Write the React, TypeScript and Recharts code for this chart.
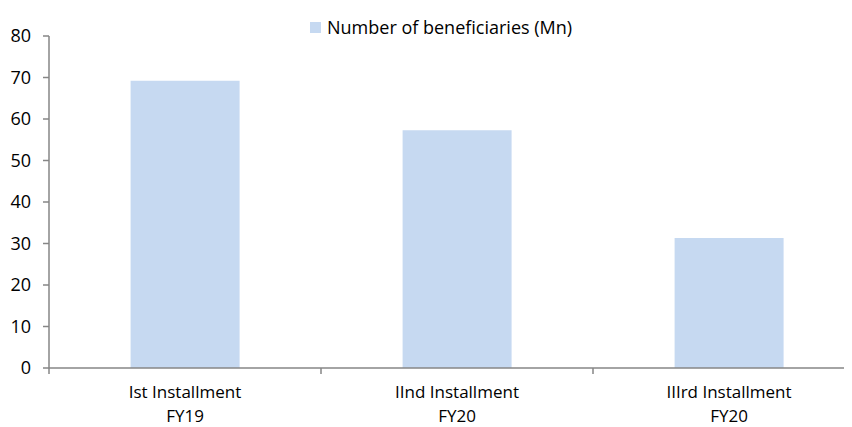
import { BarChart, Bar, XAxis, YAxis, Legend } from 'recharts'

const categories = ['Ist Installment', 'IInd Installment', 'IIIrd Installment']
const fiscalYears = ['FY19', 'FY20', 'FY20']
const beneficiaries = [69.2, 57.3, 31.3]
const yTicks = [0, 10, 20, 30, 40, 50, 60, 70, 80]
const seriesName = 'Number of beneficiaries (Mn)'

const BAR_COLOR = '#C6D9F1'
const AXIS_COLOR = '#868686'
const TEXT_COLOR = '#000'
const FONT = '"Open Sans", Lato, sans-serif'

const CHART_W = 857
const CHART_H = 419
const Y_AXIS_W = 41
const BAND_W = (CHART_W - Y_AXIS_W) / categories.length

const data = categories.map((name, i) => ({
  name,
  fy: fiscalYears[i],
  value: beneficiaries[i],
}))

// two-line category label plus a tick mark on the left edge of each band
function CategoryTick(props: any) {
  const { x, y, index } = props
  const axisY = y - 6
  const left = x - BAND_W / 2
  return (
    <g>
      <line x1={left} y1={axisY} x2={left} y2={axisY + 6} stroke={AXIS_COLOR} strokeWidth={1.5} />
      <text x={x} y={axisY + 30} textAnchor="middle" fontFamily={FONT} fontSize={17} fill={TEXT_COLOR}>
        {categories[index]}
      </text>
      <text x={x} y={axisY + 54} textAnchor="middle" fontFamily={FONT} fontSize={17} fill={TEXT_COLOR}>
        {fiscalYears[index]}
      </text>
    </g>
  )
}

function LegendContent() {
  return (
    <div style={{ display: 'flex', alignItems: 'center', fontFamily: FONT, fontSize: 18, color: TEXT_COLOR }}>
      <span style={{ display: 'inline-block', width: 11, height: 11, background: BAR_COLOR, marginRight: 6 }} />
      <span>{seriesName}</span>
    </div>
  )
}

export default function App() {
  return (
    <div style={{ width: 844, height: CHART_H, overflow: 'hidden' }}>
      <BarChart
        width={CHART_W}
        height={CHART_H}
        data={data}
        margin={{ top: 28, right: 0, bottom: 0, left: 0 }}
        barCategoryGap="30%"
      >
        <YAxis
          width={Y_AXIS_W}
          domain={[0, 80]}
          ticks={yTicks}
          interval={0}
          axisLine={{ stroke: AXIS_COLOR, strokeWidth: 1.5 }}
          tickLine={{ stroke: AXIS_COLOR, strokeWidth: 1.5 }}
          tickSize={6}
          tickMargin={12}
          tick={{ fontFamily: FONT, fontSize: 18, fill: TEXT_COLOR }}
        />
        <XAxis
          dataKey="name"
          height={59}
          interval={0}
          axisLine={{ stroke: AXIS_COLOR, strokeWidth: 1.5 }}
          tickLine={false}
          tickSize={6}
          tickMargin={0}
          tick={<CategoryTick />}
        />
        <Legend
          verticalAlign="middle"
          align="center"
          content={<LegendContent />}
          wrapperStyle={{ top: 7, left: 302, width: 'auto' }}
        />
        <Bar dataKey="value" name={seriesName} fill={BAR_COLOR} isAnimationActive={false} />
      </BarChart>
    </div>
  )
}
